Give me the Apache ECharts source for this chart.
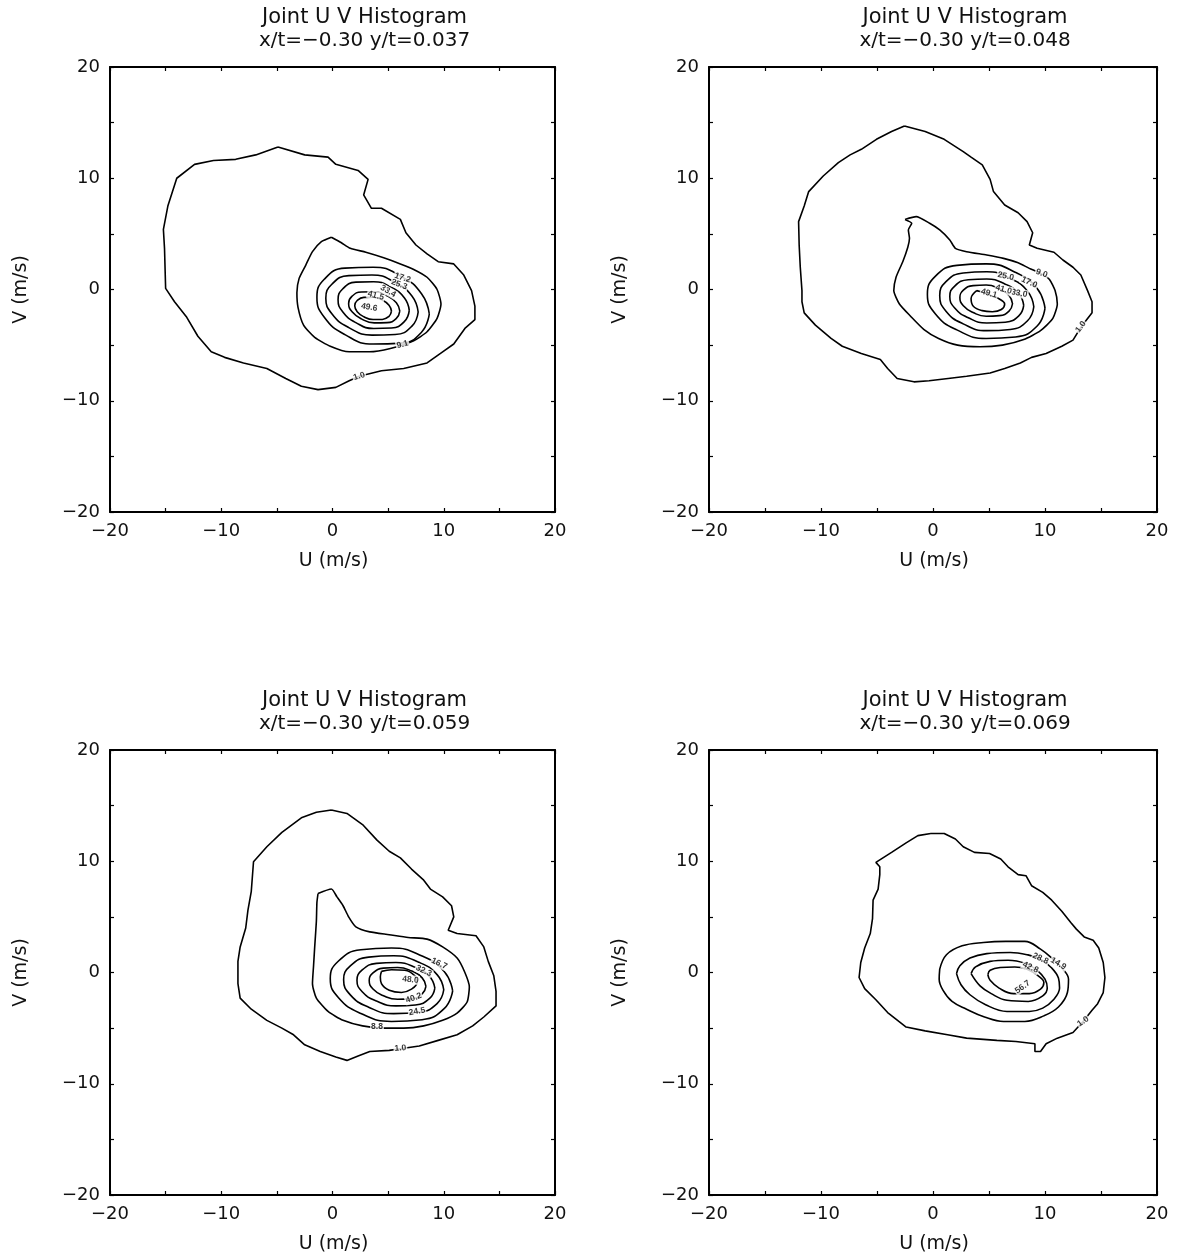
<!DOCTYPE html>
<html>
<head>
<meta charset="utf-8">
<script src="https://cdn.jsdelivr.net/npm/echarts@6/dist/echarts.min.js"></script>
<style>
  html, body { margin: 0; padding: 0; background: #ffffff; }
  #chart { width: 1183px; height: 1260px; }
</style>
</head>
<body>
<div id="chart"></div>
<script>
// ---------------- data ----------------
const axisRange = [-20, 20];
const tickStep = 5;
const tickLabels = [-20, -10, 0, 10, 20];
const mainTitle = 'Joint U V Histogram';
const panelTitles = [
  'x/t=\u22120.30 y/t=0.037',
  'x/t=\u22120.30 y/t=0.048',
  'x/t=\u22120.30 y/t=0.059',
  'x/t=\u22120.30 y/t=0.069'
];
const uAxisName = 'U (m/s)';
const vAxisName = 'V (m/s)';

// Contour lines, [U, V] in m/s, y/t = 0.037
const c037_1_0 = [[-4.9,12.8],[-2.5,12.1],[-0.4,11.9],[0.3,11.25],[2.3,10.7],[3.2,9.9],[2.8,8.5],[3.5,7.3],[4.4,7.3],[6.1,6.3],[6.6,5.1],[7.5,4.0],[8.5,3.2],[9.5,2.5],[10.9,2.3],[11.8,1.3],[12.5,-0.1],[12.8,-1.5],[12.8,-2.7],[11.9,-3.5],[10.9,-4.9],[9.9,-5.6],[8.5,-6.6],[6.4,-7.1],[4.4,-7.3],[2.4,-7.8],[1.5,-8.2],[0.3,-8.8],[-1.3,-9.0],[-2.8,-8.7],[-4.2,-8.0],[-5.9,-7.1],[-8.0,-6.6],[-9.7,-6.1],[-10.9,-5.6],[-12.1,-4.2],[-13.1,-2.5],[-14.2,-1.1],[-15.0,0.1],[-15.1,3.7],[-15.2,5.4],[-14.8,7.5],[-14.0,10.0],[-12.4,11.25],[-10.7,11.6],[-8.7,11.7],[-6.9,12.1],[-4.9,12.8]];
const c037_9_1 = [[-0.1,4.7],[0.8,4.2],[1.6,3.7],[3.0,3.35],[4.6,2.85],[6.1,2.3],[7.3,1.8],[8.5,1.1],[9.4,0.0],[9.75,-1.3],[9.4,-2.6],[8.5,-3.8],[7.3,-4.6],[5.2,-5.3],[3.3,-5.6],[1.5,-5.6],[-0.2,-5.1],[-1.6,-4.3],[-2.6,-3.2],[-3.1,-1.6],[-3.2,-0.3],[-3.0,1.0],[-2.4,2.2],[-1.8,3.4],[-1.0,4.3],[-0.1,4.7]];
const c037_17_2 = [[8.7,-2.2],[8.0,-0.38],[6.2,1.16],[3.65,2.0],[1.12,1.92],[-0.72,0.94],[-1.4,-0.69],[-0.72,-2.52],[1.12,-4.06],[3.65,-4.9],[6.2,-4.82],[8.0,-3.84],[8.7,-2.2]];
const c037_25_3 = [[7.7,-2.02],[7.14,-0.59],[5.63,0.63],[3.55,1.3],[1.47,1.25],[-0.04,0.49],[-0.6,-0.78],[-0.04,-2.21],[1.47,-3.43],[3.55,-4.1],[5.63,-4.05],[7.14,-3.29],[7.7,-2.02]];
const c037_33_4 = [[6.9,-1.88],[6.47,-0.77],[5.3,0.18],[3.7,0.7],[2.1,0.66],[0.93,0.07],[0.5,-0.92],[0.93,-2.03],[2.1,-2.98],[3.7,-3.5],[5.3,-3.46],[6.47,-2.87],[6.9,-1.88]];
const c037_41_5 = [[6.05,-1.95],[5.74,-1.2],[4.9,-0.56],[3.75,-0.2],[2.6,-0.22],[1.76,-0.6],[1.45,-1.25],[1.76,-2.0],[2.6,-2.64],[3.75,-3.0],[4.9,-2.98],[5.74,-2.6],[6.05,-1.95]];
const c037_49_6 = [[5.3,-1.95],[5.08,-1.41],[4.48,-0.95],[3.65,-0.7],[2.82,-0.71],[2.22,-0.99],[2.0,-1.45],[2.22,-1.99],[2.82,-2.45],[3.65,-2.7],[4.48,-2.69],[5.08,-2.41],[5.3,-1.95]];
// contour value labels: [U, V, text, rotation in degrees]
const lab037 = [[2.4,-7.8,'1.0',18],[6.3,-4.95,'9.1',15],[6.3,1.05,'17.2',-18],[6.0,0.45,'25.3',-20],[5.0,-0.15,'33.4',-30],[3.9,-0.55,'41.5',-15],[3.3,-1.6,'49.6',-10]];

// y/t = 0.048
const c048_1_0 = [[-2.55,14.7],[-0.7,14.2],[1.0,13.5],[2.7,12.4],[3.4,11.9],[4.4,11.2],[5.1,9.9],[5.4,8.8],[6.4,7.6],[7.6,6.9],[8.4,6.1],[8.9,5.1],[8.6,4.0],[9.3,3.7],[10.8,3.35],[11.6,2.65],[12.5,2.0],[13.2,1.3],[13.8,-0.1],[14.2,-1.1],[14.2,-2.1],[13.2,-3.4],[12.5,-4.55],[11.5,-5.1],[10.1,-5.75],[8.8,-6.1],[7.8,-6.6],[6.4,-7.1],[5.1,-7.5],[3.0,-7.8],[1.35,-8.0],[-0.35,-8.2],[-1.7,-8.3],[-3.2,-8.0],[-4.05,-7.1],[-4.7,-6.3],[-6.4,-5.75],[-8.1,-5.1],[-9.1,-4.4],[-10.5,-3.2],[-11.5,-2.1],[-11.7,-1.1],[-11.7,-0.1],[-11.85,2.0],[-11.95,4.0],[-12.0,6.1],[-11.5,7.5],[-11.1,8.8],[-9.8,10.2],[-8.45,11.4],[-7.4,12.1],[-6.4,12.6],[-5.05,13.5],[-3.7,14.2],[-2.55,14.7]];
const c048_9_0 = [[-2.5,6.3],[-1.5,6.55],[-0.3,5.95],[0.6,5.35],[1.5,4.45],[2.0,3.7],[3.0,3.4],[4.8,3.1],[6.3,2.8],[7.6,2.4],[8.6,1.9],[9.6,1.45],[10.4,0.9],[10.9,-0.1],[11.1,-1.3],[10.7,-2.6],[9.6,-3.7],[8.1,-4.5],[6.2,-5.0],[4.2,-5.15],[2.2,-5.0],[0.5,-4.4],[-0.8,-3.6],[-2.0,-2.4],[-3.0,-1.3],[-3.5,-0.1],[-3.3,1.1],[-2.7,2.5],[-2.25,3.8],[-2.1,4.6],[-2.2,5.35],[-1.9,5.95],[-2.5,6.3]];
const c048_17_0 = [[10.0,-1.68],[9.3,0.08],[7.38,1.53],[4.75,2.3],[2.13,2.17],[0.2,1.18],[-0.5,-0.42],[0.2,-2.18],[2.13,-3.63],[4.75,-4.4],[7.38,-4.27],[9.3,-3.28],[10.0,-1.68]];
const c048_25_0 = [[9.0,-1.55],[8.44,-0.15],[6.9,0.99],[4.8,1.6],[2.7,1.49],[1.16,0.71],[0.6,-0.55],[1.16,-1.95],[2.7,-3.09],[4.8,-3.7],[6.9,-3.59],[8.44,-2.81],[9.0,-1.55]];
const c048_33_0 = [[8.1,-1.43],[7.66,-0.39],[6.45,0.48],[4.8,0.95],[3.15,0.88],[1.94,0.31],[1.5,-0.63],[1.94,-1.67],[3.15,-2.54],[4.8,-3.01],[6.45,-2.94],[7.66,-2.37],[8.1,-1.43]];
const c048_41_0 = [[7.1,-1.28],[6.79,-0.54],[5.93,0.07],[4.75,0.4],[3.58,0.35],[2.71,-0.06],[2.4,-0.72],[2.71,-1.46],[3.58,-2.07],[4.75,-2.4],[5.93,-2.35],[6.79,-1.94],[7.1,-1.28]];
const c048_49_1 = [[3.9,-0.1],[3.4,-0.8],[3.6,-1.5],[4.4,-1.9],[5.3,-2.0],[6.1,-1.8],[6.4,-1.3],[6.0,-0.9],[5.3,-0.6],[4.6,-0.3],[3.9,-0.1]];
const lab048 = [[13.2,-3.35,'1.0',55],[9.7,1.45,'9.0',-20],[8.6,0.65,'17.0',-25],[6.5,1.2,'25.0',-12],[7.7,-0.35,'33.0',-10],[6.3,0.0,'41.0',-15],[5.0,-0.35,'49.1',-15]];

// y/t = 0.059
const c059_1_0 = [[-0.1,14.6],[1.3,14.3],[2.7,13.3],[4.0,11.9],[5.1,10.9],[6.1,10.3],[7.1,9.3],[8.2,8.3],[8.8,7.5],[9.9,6.8],[10.7,6.0],[10.9,5.0],[10.4,3.8],[11.2,3.5],[12.9,3.3],[13.6,2.3],[14.0,1.0],[14.5,-0.3],[14.7,-1.7],[14.7,-3.0],[13.6,-4.0],[12.6,-4.8],[11.2,-5.6],[9.5,-6.1],[7.8,-6.6],[6.1,-6.85],[5.1,-7.0],[3.35,-7.1],[2.3,-7.5],[1.3,-7.9],[0.3,-7.6],[-1.1,-7.1],[-2.5,-6.5],[-3.5,-5.6],[-4.55,-5.0],[-5.9,-4.3],[-7.3,-3.3],[-8.3,-2.3],[-8.5,-1.0],[-8.5,1.0],[-8.3,2.3],[-7.8,4.0],[-7.6,5.6],[-7.3,7.3],[-7.1,9.95],[-5.9,11.3],[-4.55,12.6],[-2.8,13.9],[-1.45,14.4],[-0.1,14.6]];
const c059_8_8 = [[-1.3,7.1],[-0.1,7.5],[0.4,6.8],[0.95,6.0],[1.45,5.0],[2.1,4.1],[3.35,3.65],[5.1,3.4],[6.8,3.15],[8.5,3.0],[9.9,2.3],[11.2,1.3],[11.9,0.0],[12.3,-1.3],[12.1,-2.65],[11.2,-3.65],[9.9,-4.3],[8.2,-4.8],[6.4,-5.0],[4.7,-5.0],[2.7,-4.8],[0.95,-4.3],[-0.4,-3.5],[-1.45,-2.3],[-1.8,-1.0],[-1.7,0.65],[-1.6,2.3],[-1.45,4.6],[-1.4,6.3],[-1.3,7.1]];
const c059_16_7 = [[10.8,-1.65],[10.06,0.07],[8.05,1.48],[5.3,2.2],[2.55,2.04],[0.54,1.03],[-0.2,-0.55],[0.54,-2.27],[2.55,-3.68],[5.3,-4.4],[8.05,-4.24],[10.06,-3.23],[10.8,-1.65]];
const c059_24_5 = [[10.0,-1.55],[9.4,-0.19],[7.75,0.92],[5.5,1.5],[3.25,1.38],[1.6,0.59],[1.0,-0.65],[1.6,-2.01],[3.25,-3.12],[5.5,-3.7],[7.75,-3.58],[9.4,-2.79],[10.0,-1.55]];
const c059_32_3 = [[9.2,-1.4],[8.73,-0.37],[7.45,0.46],[5.7,0.9],[3.95,0.82],[2.67,0.23],[2.2,-0.7],[2.67,-1.73],[3.95,-2.56],[5.7,-3.0],[7.45,-2.92],[8.73,-2.33],[9.2,-1.4]];
const c059_40_2 = [[8.4,-1.24],[8.06,-0.48],[7.13,0.13],[5.85,0.45],[4.58,0.39],[3.64,-0.04],[3.3,-0.72],[3.64,-1.48],[4.58,-2.09],[5.85,-2.41],[7.13,-2.35],[8.06,-1.92],[8.4,-1.24]];
const c059_48_0 = [[4.4,0.1],[5.3,0.25],[6.5,0.2],[7.4,-0.3],[7.6,-0.9],[7.1,-1.5],[6.2,-1.8],[5.1,-1.6],[4.4,-1.0],[4.3,-0.4],[4.4,0.1]];
const lab059 = [[6.1,-6.8,'1.0',5],[4.0,-4.9,'8.8',0],[9.6,0.8,'16.7',-25],[8.2,0.15,'32.3',-25],[7.0,-0.65,'48.0',-5],[7.3,-2.3,'40.2',20],[7.6,-3.5,'24.5',10]];

// y/t = 0.069
const c069_1_0 = [[-0.2,12.5],[1.0,12.5],[2.0,12.0],[2.7,11.3],[3.7,10.8],[5.05,10.7],[6.05,10.2],[6.7,9.5],[7.6,8.8],[8.3,8.7],[8.8,7.8],[9.8,7.2],[10.6,6.5],[11.5,5.5],[12.3,4.5],[12.8,3.9],[13.5,3.2],[14.3,2.9],[14.8,2.2],[15.2,0.9],[15.35,-0.45],[15.2,-1.8],[14.7,-2.8],[14.2,-3.4],[13.4,-4.4],[12.5,-5.4],[11.1,-5.9],[10.1,-6.4],[9.6,-7.1],[9.1,-7.1],[9.1,-6.4],[7.4,-6.2],[5.7,-6.1],[3.0,-5.9],[1.3,-5.6],[-0.7,-5.25],[-2.4,-4.9],[-3.05,-4.4],[-4.05,-3.6],[-5.1,-2.45],[-6.1,-1.45],[-6.6,-0.45],[-6.45,0.9],[-6.1,2.2],[-5.6,3.5],[-5.4,4.85],[-5.35,6.5],[-4.9,7.5],[-4.75,8.8],[-4.75,9.5],[-5.1,9.9],[-3.7,10.8],[-2.4,11.65],[-1.35,12.3],[-0.2,12.5]];
const c069_14_9 = [[0.6,0.3],[1.2,1.6],[2.6,2.4],[4.5,2.7],[6.5,2.8],[8.2,2.8],[9.6,2.1],[10.7,1.2],[11.6,0.3],[12.1,-0.6],[12.0,-1.8],[11.2,-3.1],[9.9,-3.9],[8.2,-4.4],[6.3,-4.4],[4.6,-4.0],[3.0,-3.3],[1.7,-2.6],[0.9,-1.6],[0.55,-0.6],[0.6,0.3]];
const c069_28_8 = [[2.1,-0.1],[2.4,0.6],[3.3,1.3],[4.8,1.7],[6.9,1.8],[8.4,1.6],[9.6,1.2],[10.6,0.4],[11.2,-0.5],[11.3,-1.4],[10.8,-2.4],[9.8,-3.2],[8.6,-3.5],[6.6,-3.5],[4.7,-2.9],[3.3,-2.0],[2.5,-1.1],[2.1,-0.1]];
const c069_42_8 = [[3.4,-0.1],[3.8,0.5],[5.1,1.0],[6.7,1.1],[8.3,0.8],[9.3,0.2],[10.0,-0.6],[10.2,-1.4],[9.8,-2.1],[8.5,-2.6],[6.6,-2.5],[5.2,-1.9],[4.2,-1.2],[3.4,-0.1]];
const c069_56_7 = [[4.9,-0.2],[5.1,0.2],[6.0,0.45],[7.3,0.5],[8.4,0.3],[9.4,-0.3],[9.9,-0.9],[9.6,-1.5],[8.6,-1.9],[7.2,-1.9],[5.9,-1.4],[5.1,-0.7],[4.9,-0.2]];
const lab069 = [[13.4,-4.4,'1.0',35],[11.2,0.8,'14.9',-30],[9.6,1.25,'28.8',-25],[8.7,0.45,'42.8',-25],[8.0,-1.3,'56.7',35]];

// ---------------- chart ----------------
// contour sets per panel; smooth: 0 for the jagged outer level, more for inner rings
const panels = [
  { title: panelTitles[0], labels: lab037, contours: [
    [c037_1_0, 0], [c037_9_1, 0.2], [c037_17_2, 0.5], [c037_25_3, 0.5], [c037_33_4, 0.5], [c037_41_5, 0.5], [c037_49_6, 0.5] ] },
  { title: panelTitles[1], labels: lab048, contours: [
    [c048_1_0, 0], [c048_9_0, 0.2], [c048_17_0, 0.5], [c048_25_0, 0.5], [c048_33_0, 0.5], [c048_41_0, 0.5], [c048_49_1, 0.4] ] },
  { title: panelTitles[2], labels: lab059, contours: [
    [c059_1_0, 0], [c059_8_8, 0.2], [c059_16_7, 0.5], [c059_24_5, 0.5], [c059_32_3, 0.5], [c059_40_2, 0.5], [c059_48_0, 0.4] ] },
  { title: panelTitles[3], labels: lab069, contours: [
    [c069_1_0, 0], [c069_14_9, 0.4], [c069_28_8, 0.4], [c069_42_8, 0.4], [c069_56_7, 0.4] ] }
];

const boxes = [
  { left: 110, top: 67,  width: 445, height: 445 },
  { left: 709, top: 67,  width: 448, height: 445 },
  { left: 110, top: 750, width: 445, height: 445 },
  { left: 709, top: 750, width: 448, height: 445 }
];

const FONT = 'DejaVu Sans';
const INK = '#111111';
const fmtTick = v => tickLabels.includes(v) ? String(v).replace('-', '\u2212') : '';

function makeAxis(gridIndex, position, showLabels) {
  return {
    type: 'value',
    gridIndex: gridIndex,
    position: position,
    min: axisRange[0],
    max: axisRange[1],
    interval: tickStep,
    splitLine: { show: false },
    axisLine: { show: true, onZero: false, lineStyle: { color: '#000', width: 2 } },
    axisTick: { show: true, inside: true, length: 4, lineStyle: { color: '#000', width: 1.2 } },
    axisLabel: {
      show: showLabels,
      formatter: fmtTick,
      fontFamily: FONT,
      fontSize: 18,
      color: INK,
      margin: 10,
      showMinLabel: true,
      showMaxLabel: true
    }
  };
}

const grid = [], xAxis = [], yAxis = [], series = [], graphic = [];

panels.forEach((p, i) => {
  const b = boxes[i];
  grid.push({ left: b.left, top: b.top, width: b.width, height: b.height });
  xAxis.push(makeAxis(i, 'bottom', true));
  xAxis.push(makeAxis(i, 'top', false));
  yAxis.push(makeAxis(i, 'left', true));
  yAxis.push(makeAxis(i, 'right', false));

  p.contours.forEach(([pts, sm]) => {
    series.push({
      type: 'line',
      xAxisIndex: 2 * i,
      yAxisIndex: 2 * i,
      data: pts,
      smooth: sm,
      symbol: 'none',
      silent: true,
      lineStyle: { color: '#000', width: 1.6 },
      z: 2
    });
  });

  series.push({
    type: 'scatter',
    xAxisIndex: 2 * i,
    yAxisIndex: 2 * i,
    symbolSize: 0,
    silent: true,
    z: 5,
    data: p.labels.map(([u, v, txt, rot]) => ({
      value: [u, v],
      label: { formatter: txt, rotate: rot }
    })),
    label: {
      show: true,
      position: 'inside',
      fontFamily: 'Liberation Sans',
      fontWeight: 'bold',
      fontSize: 8.5,
      color: '#000',
      backgroundColor: '#ffffff',
      padding: [0, 1]
    }
  });

  const cx = b.left + b.width / 2;
  graphic.push({
    type: 'text', x: cx + 32, y: b.top - 49,
    style: { text: mainTitle, fontFamily: FONT, fontSize: 21, fill: INK, align: 'center', verticalAlign: 'middle' }
  });
  graphic.push({
    type: 'text', x: cx + 32, y: b.top - 26,
    style: { text: p.title, fontFamily: FONT, fontSize: 20, fill: INK, align: 'center', verticalAlign: 'middle' }
  });
  graphic.push({
    type: 'text', x: cx + 1, y: b.top + b.height + 49,
    style: { text: uAxisName, fontFamily: FONT, fontSize: 19, fill: INK, align: 'center', verticalAlign: 'middle' }
  });
  graphic.push({
    type: 'text', x: b.left - 89, y: b.top + b.height / 2, rotation: Math.PI / 2,
    style: { text: vAxisName, fontFamily: FONT, fontSize: 19, fill: INK, align: 'center', verticalAlign: 'middle' }
  });
});

const chart = echarts.init(document.getElementById('chart'), null, { renderer: 'canvas' });
chart.setOption({
  backgroundColor: '#ffffff',
  animation: false,
  grid: grid,
  xAxis: xAxis,
  yAxis: yAxis,
  series: series,
  graphic: graphic
});
</script>
</body>
</html>
